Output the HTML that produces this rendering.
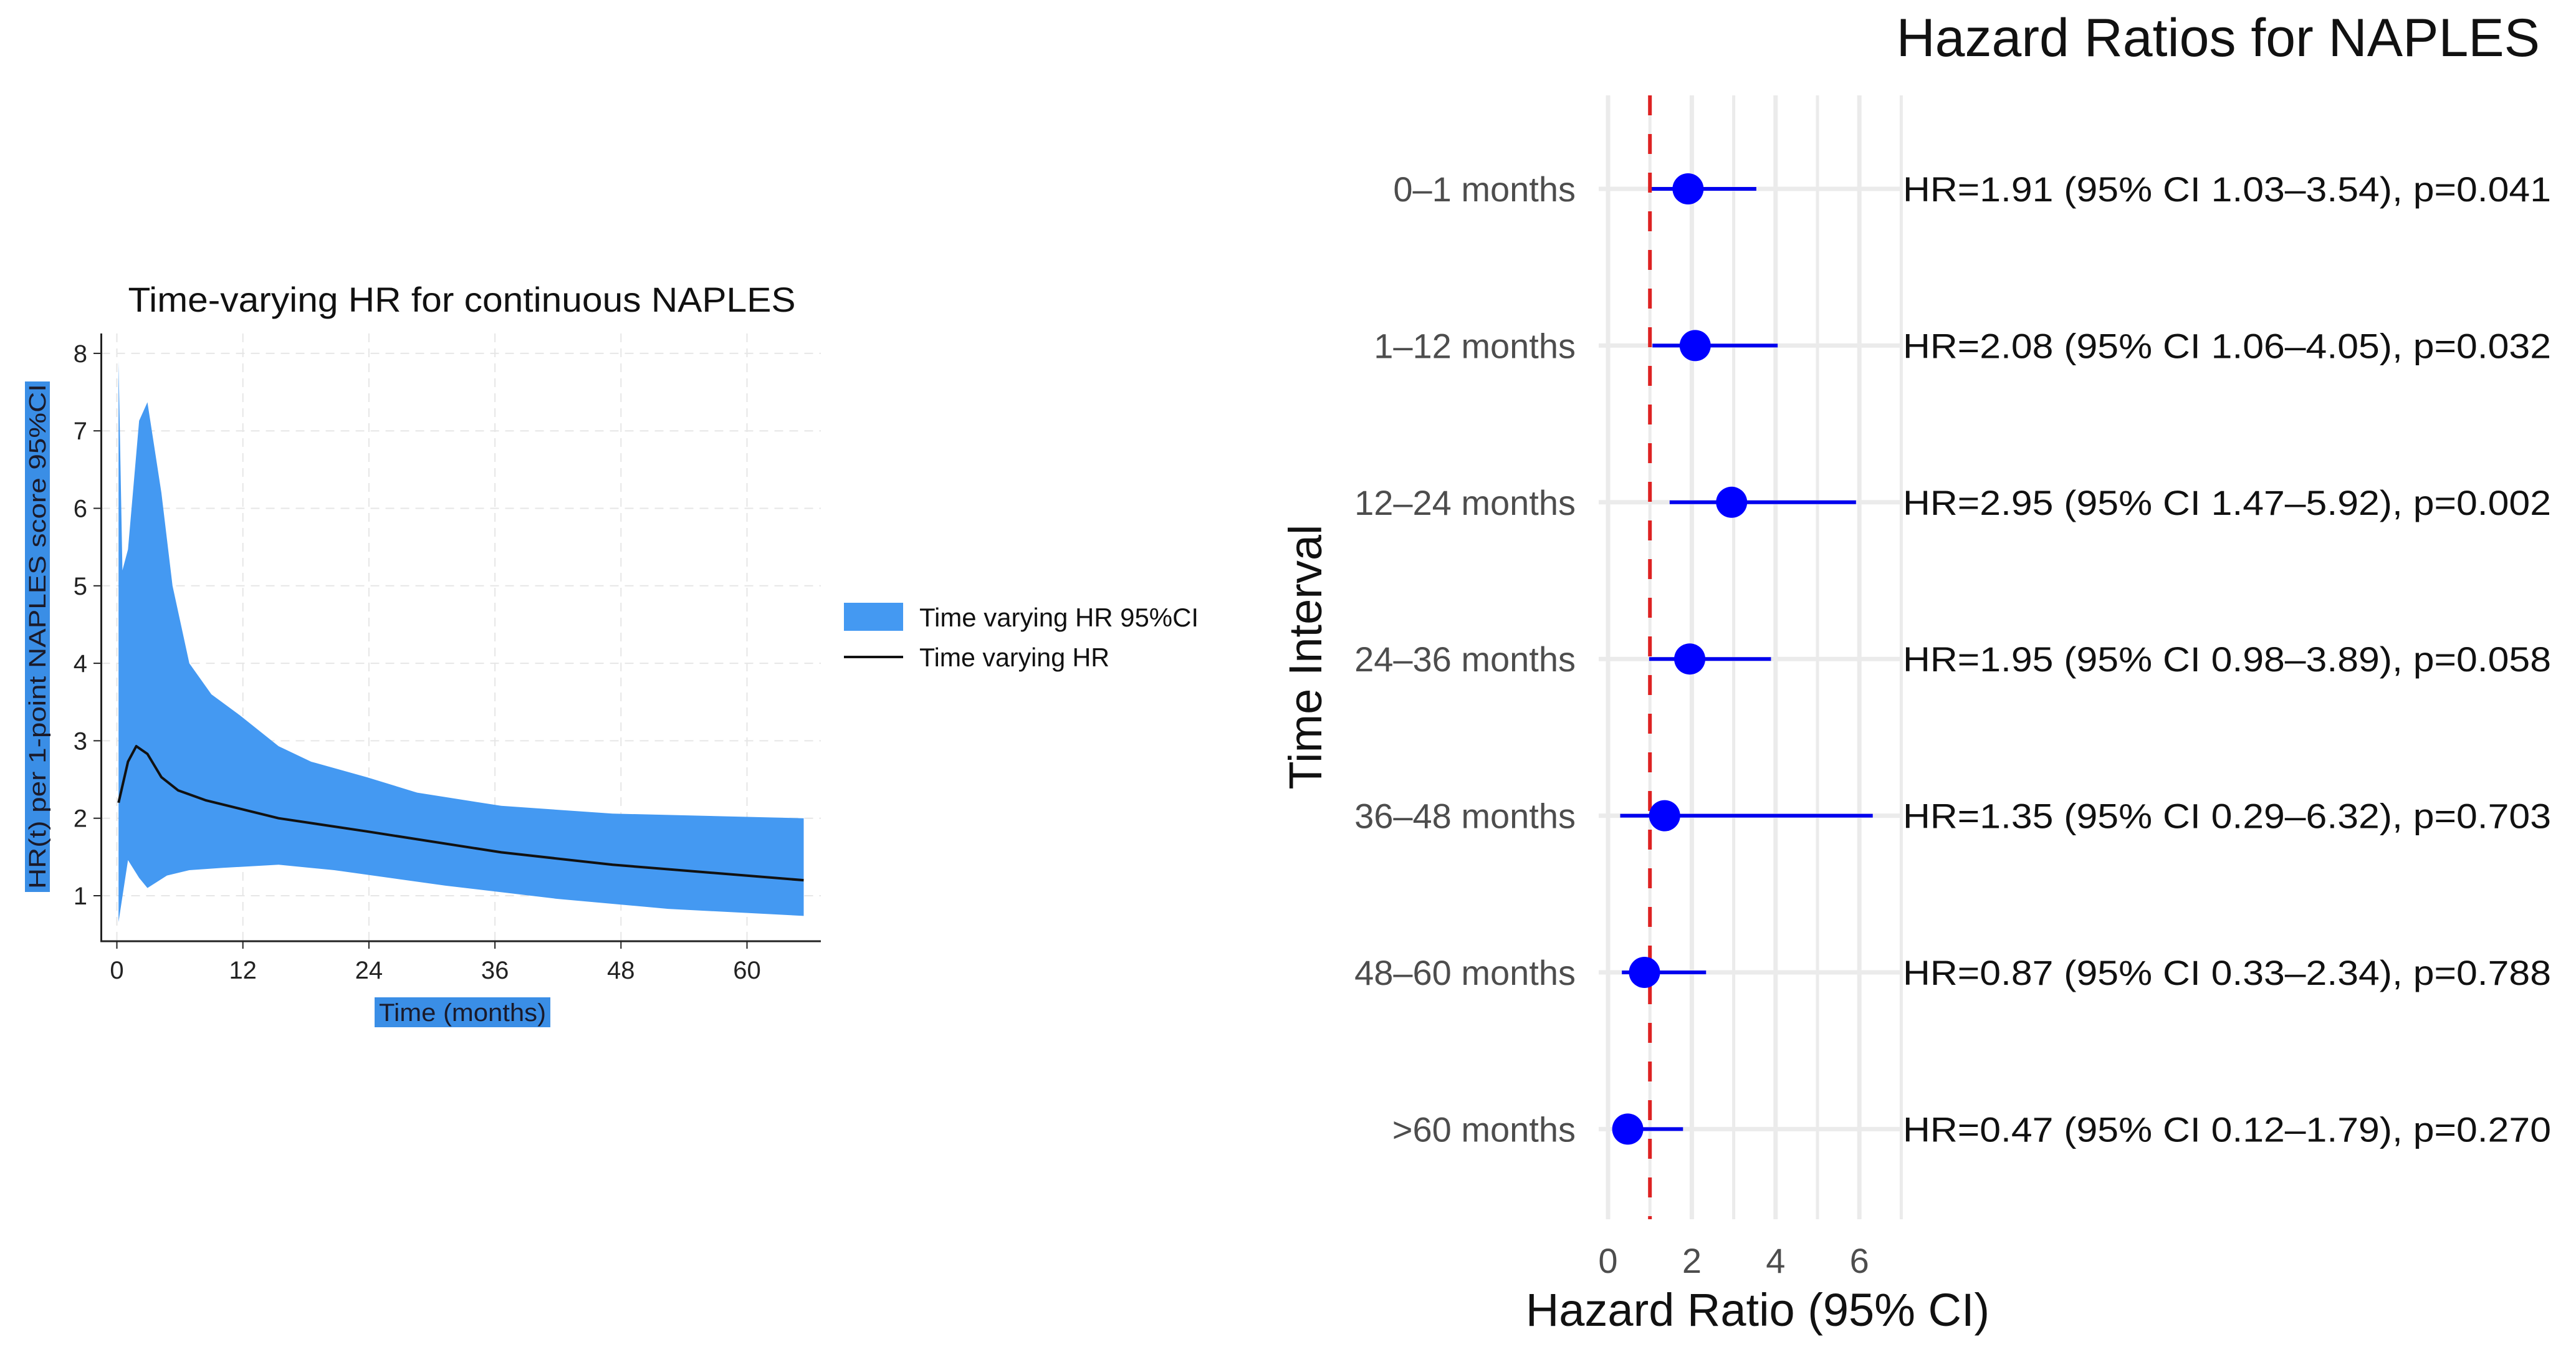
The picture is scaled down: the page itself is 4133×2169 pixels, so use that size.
<!DOCTYPE html>
<html><head><meta charset="utf-8"><style>
html,body{margin:0;padding:0;background:#fff;}
svg{display:block;font-family:"Liberation Sans",sans-serif;}
</style></head><body>
<svg id="svg" width="4133" height="2169" viewBox="0 0 4133 2169" xmlns="http://www.w3.org/2000/svg">
<g id="left"></g>
<g id="right"></g>
</svg>
<script>
// ---- Left chart data ----
const upperMonths = [0.16,0.53,1.06,2.12,2.91,4.24,5.3,6.9,9.0,11.7,15.4,18.5,23.8,28.6,36.6,47.2,65.4];
const upperValues = [7.9,5.2,5.47,7.13,7.37,6.2,5.0,4.0,3.6,3.33,2.93,2.73,2.53,2.33,2.16,2.06,2.0];
const lowerMonths = [0.16,1.06,2.12,2.91,4.77,6.9,10.1,15.4,20.7,31.3,41.9,52.5,65.4];
const lowerValues = [0.66,1.46,1.23,1.10,1.26,1.33,1.36,1.40,1.33,1.13,0.96,0.83,0.74];
const hrMonths = [0.16,1.06,1.85,2.91,4.24,5.83,8.5,15.4,23.8,36.6,47.2,65.4];
const hrValues = [2.2,2.73,2.93,2.83,2.53,2.36,2.23,2.0,1.83,1.56,1.40,1.2];
const xTicksL = [0,12,24,36,48,60];
const yTicksL = [1,2,3,4,5,6,7,8];

// ---- Right chart data ----
const intervals = ["0–1 months","1–12 months","12–24 months","24–36 months","36–48 months","48–60 months",">60 months"];
const hr = [1.91,2.08,2.95,1.95,1.35,0.87,0.47];
const ciLow = [1.03,1.06,1.47,0.98,0.29,0.33,0.12];
const ciHigh = [3.54,4.05,5.92,3.89,6.32,2.34,1.79];
const pvals = ["0.041","0.032","0.002","0.058","0.703","0.788","0.270"];
const xTicksR = [0,2,4,6];

const NS="http://www.w3.org/2000/svg";
function mk(parent,tag,attrs,text){const e=document.createElementNS(NS,tag);for(const k in attrs)e.setAttribute(k,attrs[k]);if(text!==undefined)e.textContent=text;parent.appendChild(e);return e;}

// Left chart
const L=document.getElementById('left');
const lx=m=>187.5+m*16.85, ly=v=>1437-(v-1)*124.3;
let e;
e=mk(L,'text',{x:741,y:500,'font-size':56,'text-anchor':'middle',textLength:1071,lengthAdjust:'spacingAndGlyphs',fill:'#111'},'Time-varying HR for continuous NAPLES');


xTicksL.forEach(t=>{e=mk(L,'line',{x1:lx(t),x2:lx(t),y1:535,y2:1510,stroke:'#e6e6e6','stroke-width':2,'stroke-dasharray':'14 10'});

});
yTicksL.forEach(t=>{e=mk(L,'line',{x1:162.5,x2:1317,y1:ly(t),y2:ly(t),stroke:'#e6e6e6','stroke-width':2,'stroke-dasharray':'14 10'});

});
let pts=upperMonths.map((m,i)=>lx(m)+','+ly(upperValues[i]));
for(let i=lowerMonths.length-1;i>=0;i--)pts.push(lx(lowerMonths[i])+','+ly(lowerValues[i]));
e=mk(L,'polygon',{points:pts.join(' '),fill:'#4499f2'});


e=mk(L,'polyline',{points:hrMonths.map((m,i)=>lx(m)+','+ly(hrValues[i])).join(' '),fill:'none',stroke:'#111','stroke-width':4,'stroke-linejoin':'round'});


e=mk(L,'line',{x1:162.5,x2:162.5,y1:535,y2:1511,stroke:'#222','stroke-width':3});


e=mk(L,'line',{x1:161,x2:1317,y1:1510,y2:1510,stroke:'#222','stroke-width':3});


xTicksL.forEach(t=>{mk(L,'line',{x1:lx(t),x2:lx(t),y1:1510,y2:1522,stroke:'#222','stroke-width':2});
e=mk(L,'text',{x:lx(t),y:1570,'font-size':40,'text-anchor':'middle',fill:'#222'},t);

});
yTicksL.forEach(t=>{mk(L,'line',{x1:150,x2:162.5,y1:ly(t),y2:ly(t),stroke:'#222','stroke-width':2});
e=mk(L,'text',{x:140,y:ly(t)+14,'font-size':40,'text-anchor':'end',fill:'#222'},t);

});
e=mk(L,'rect',{x:40,y:612,width:40,height:819,fill:'#3a8ee6'});


e=mk(L,'text',{x:0,y:0,'font-size':38,'text-anchor':'middle',transform:'translate(73,1021) rotate(-90)',fill:'#1a1a2a',textLength:810,lengthAdjust:'spacingAndGlyphs'},'HR(t) per 1-point NAPLES score 95%CI');


e=mk(L,'rect',{x:601,y:1600,width:282,height:48,fill:'#3a8ee6'});


e=mk(L,'text',{x:742,y:1638,'font-size':40,'text-anchor':'middle',fill:'#1a1a2a',textLength:268,lengthAdjust:'spacingAndGlyphs'},'Time (months)');


e=mk(L,'rect',{x:1354,y:967,width:95,height:45,fill:'#4499f2'});


e=mk(L,'text',{x:1475,y:1005,'font-size':42,fill:'#111',textLength:448,lengthAdjust:'spacingAndGlyphs'},'Time varying HR 95%CI');


e=mk(L,'line',{x1:1354,x2:1449,y1:1054,y2:1054,stroke:'#111','stroke-width':4});


e=mk(L,'text',{x:1475,y:1069,'font-size':42,fill:'#111',textLength:305,lengthAdjust:'spacingAndGlyphs'},'Time varying HR');



// Right chart
const R=document.getElementById('right');
const rx=v=>2580+v*67.2;
const rowY=i=>303+i*251.4;
for(let v=0;v<=7;v++){e=mk(R,'line',{x1:rx(v),x2:rx(v),y1:153,y2:1956,stroke:'#ebebeb','stroke-width':v%2===0?7:5});

}
intervals.forEach((lab,i)=>{const y=rowY(i);
e=mk(R,'line',{x1:2565,x2:3051,y1:y,y2:y,stroke:'#ebebeb','stroke-width':7});


e=mk(R,'text',{x:2528,y:y+20,'font-size':56,'text-anchor':'end',fill:'#4d4d4d'},lab);

});
intervals.forEach((lab,i)=>{const y=rowY(i);
e=mk(R,'line',{x1:rx(ciLow[i]),x2:rx(ciHigh[i]),y1:y,y2:y,stroke:'#0000ee','stroke-width':6});

});
e=mk(R,'line',{x1:rx(1),x2:rx(1),y1:153,y2:1956,stroke:'#dd2222','stroke-width':6,'stroke-dasharray':'32 30'});


intervals.forEach((lab,i)=>{const y=rowY(i);
e=mk(R,'circle',{cx:rx(hr[i]),cy:y,r:25,fill:'#0000ff'});


e=mk(R,'text',{x:3053,y:y+20,'font-size':56,fill:'#111',textLength:1040,lengthAdjust:'spacingAndGlyphs'},'HR='+hr[i].toFixed(2)+' (95% CI '+ciLow[i].toFixed(2)+'–'+ciHigh[i].toFixed(2)+'), p='+pvals[i]);

});
xTicksR.forEach(t=>{e=mk(R,'text',{x:rx(t),y:2042,'font-size':56,'text-anchor':'middle',fill:'#4d4d4d'},t);

});
e=mk(R,'text',{x:2820,y:2127,'font-size':74,'text-anchor':'middle',fill:'#111'},'Hazard Ratio (95% CI)');


e=mk(R,'text',{x:0,y:0,'font-size':74,'text-anchor':'middle',transform:'translate(2120,1054) rotate(-90)',fill:'#111'},'Time Interval');


e=mk(R,'text',{x:4075,y:90,'font-size':86,'text-anchor':'end',fill:'#111'},'Hazard Ratios for NAPLES');


</script>
</body></html>
